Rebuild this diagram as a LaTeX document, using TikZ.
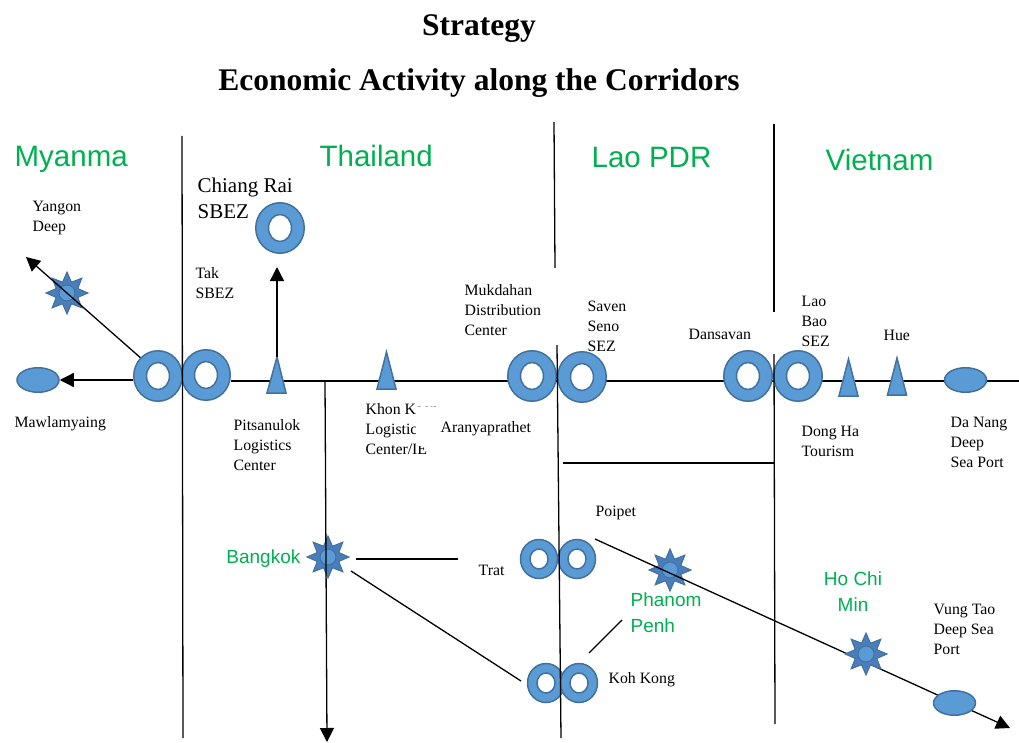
\documentclass[tikz,border=0pt]{standalone}
\usepackage{fontspec}
\setmainfont{Liberation Serif}
\newfontfamily\arialfont{Liberation Sans}
\usepackage{tikz}
\usetikzlibrary{shapes.geometric}
\usetikzlibrary{arrows.meta}

\definecolor{ggreen}{RGB}{0,176,80}
\definecolor{sitefill}{RGB}{91,155,213}
\definecolor{siteline}{RGB}{65,113,156}
\definecolor{sunfill}{RGB}{74,126,187}

\begin{document}
\begin{tikzpicture}[x=1pt,y=-1pt,line width=1.3pt,
  corr/.style={-{Triangle[length=14pt,width=14pt]}},
  ring/.style={ellipse,inner sep=0,minimum width=48.5pt,minimum height=50.5pt,
    fill=sitefill,draw=siteline,line width=1.5pt,
    path picture={\filldraw[fill=white,draw=siteline,line width=1.5pt]
      (path picture bounding box.center) ellipse [x radius=11.5pt,y radius=13.5pt];}},
  smallring/.style={ellipse,inner sep=0,minimum width=37pt,minimum height=39pt,
    fill=sitefill,draw=siteline,line width=1.5pt,
    path picture={\filldraw[fill=white,draw=siteline,line width=1.5pt]
      (path picture bounding box.center) ellipse [x radius=9pt,y radius=10pt];}},
  port/.style={ellipse,inner sep=0,minimum width=42pt,minimum height=24.5pt,
    fill=sitefill,draw=siteline,line width=1.5pt},
  sun/.style={star,star points=8,star point ratio=1.8,inner sep=0,minimum size=42pt,
    fill=sunfill,draw=siteline,line width=1pt,
    path picture={\filldraw[fill=sitefill,draw=siteline,line width=1pt]
      (path picture bounding box.center) circle (8pt);}},
  tri/.style={fill=sitefill,draw=siteline,line width=1.5pt,line join=miter},
  lbl/.style={inner sep=0,anchor=west,align=left,font=\fontsize{15.8}{20}\selectfont},
  city/.style={inner sep=0,text=ggreen,font=\arialfont\fontsize{19}{26}\selectfont},
  cty/.style={inner sep=0,anchor=base west,text=ggreen,font=\arialfont\fontsize{29.5}{34}\selectfont},
  ttl/.style={inner sep=0,anchor=base,font=\bfseries\fontsize{31.5}{36}\selectfont}]
\useasboundingbox (0,0) rectangle (1019,743);

% headings
\node[ttl] (title) at (479,36) {Strategy};
\node[ttl] (subtitle) at (479,91) {Economic Activity along the Corridors};

\node[cty] (myanma) at (14,167) {Myanma};
\node[cty] (thailand) at (319,167) {Thailand};
\node[cty] (laopdr) at (591,168) {Lao PDR};
\node[cty] (vietnam) at (825,171) {Vietnam};

% free ends of the corridors
\coordinate (corrE) at (1019,381);
\coordinate (yangonend) at (26,257);
\coordinate (pitsa) at (277,357);
\coordinate (crtip) at (277,267);
\coordinate (bkstart) at (325,381);
\coordinate (bkend) at (327,742);
\coordinate (bktr1) at (356,559);
\coordinate (bktr2) at (458,559);
\coordinate (bk1) at (351,571);
\coordinate (kk1) at (521,681);
\coordinate (kkpp1) at (589,653);
\coordinate (kkpp2) at (622,620);
\coordinate (poipetS) at (595,539);
\coordinate (vtend) at (1010,728);

% east-west corridor
\node[port] (mawla) at (38,380) {};
\node[ring] (mmring) at (158,376) {};
\node[ring] (takring) at (206,375) {};
\draw (takring.east |- corrE) -- (corrE);
\draw[corr] (mmring.west |- mawla) -- (mawla.east);
\node[sun] (yangonsun) at (67,293) {};
\draw[corr] (mmring.north west) -- (yangonend);

\node[ring] (crring) at (280,228) {};
\filldraw[tri] (267,393) -- (pitsa) -- (286,393) -- cycle;
\draw[corr] (pitsa) -- (crtip);
\filldraw[tri] (377,389) -- (386.5,352) -- (396,389) -- cycle;

\node[ring] (mukring) at (532,376) {};
\node[ring] (savring) at (582,377) {};
\node[ring] (dsvring) at (748,376) {};
\node[ring] (lbring) at (798,376) {};
\filldraw[tri] (839,396) -- (848.5,359) -- (858,396) -- cycle;
\filldraw[tri] (887.5,395) -- (897,358) -- (906.5,395) -- cycle;
\node[port] (danang) at (965.5,380) {};

% southern corridor
\node[sun] (bangkok) at (328,557) {};
\node[smallring] (tratA) at (539,559) {};
\node[smallring] (tratB) at (577,559) {};
\node[smallring] (kkA) at (546,683) {};
\node[smallring] (kkB) at (579,683) {};
\draw (bktr1) -- (bktr2);
\draw (bk1) -- (kk1);
\draw (kkpp1) -- (kkpp2);

\node[sun] (phnompenh) at (670,570) {};
\draw[corr] (poipetS) -- (vtend);
\node[sun] (hcm) at (866,654) {};
\node[port] (vungtao) at (954.5,703) {};

% borders
\draw (182,136) -- (183,738);
\draw (554,122) -- (555,268);
\draw (557,345) -- (561,738);
\draw (774,124) -- (774,312);
\draw (774,354) -- (775,724);
\draw (563,463) -- (774,463);
\draw[corr] (bkstart) -- (bkend);

% names of the places
\node[lbl] (yangon) at (32,218) {Yangon\\Deep};
\node[lbl] (tak) at (195,283) {Tak\\SBEZ};
\node[lbl,font=\fontsize{21}{26}\selectfont] (chiangrai) at (197,198) {Chiang Rai\\SBEZ};
\node[lbl] (mawlalbl) at (14,424) {Mawlamyaing};
\node[lbl] (pitsanulok) at (233,445) {Pitsanulok\\Logistics\\Center};
\node[lbl] (khonkaen) at (365,429) {Khon Kaen\\Logistic\\Center/IE};
\fill[white] (416,407) rectangle (440,446);
\node[lbl] (aranya) at (440,429) {Aranyaprathet};
\node[lbl] (mukdahan) at (464,310) {Mukdahan\\Distribution\\Center};
\node[lbl] (savenseno) at (587,326) {Saven\\Seno\\SEZ};
\node[lbl] (dansavan) at (688,334) {Dansavan};
\node[lbl] (laobao) at (801,321) {Lao\\Bao\\SEZ};
\node[lbl] (hue) at (883,335) {Hue};
\node[lbl] (dongha) at (801,441) {Dong Ha\\Tourism};
\node[lbl] (dananglbl) at (950,442) {Da Nang\\Deep\\Sea Port};
\node[lbl] (poipet) at (595,513) {Poipet};
\node[lbl] (trat) at (478,570) {Trat};
\node[lbl] (kohkong) at (608,680) {Koh Kong};
\node[lbl] (vungtaolbl) at (933,629) {Vung Tao\\Deep Sea\\Port};

\node[city,anchor=east] (bangkoklbl) at (301,559) {Bangkok};
\node[city,anchor=west,align=left] (phnompenhlbl) at (630,613) {Phanom\\Penh};
\node[city,align=center] (hcmlbl) at (853,592) {Ho Chi\\Min};
\end{tikzpicture}
\end{document}
